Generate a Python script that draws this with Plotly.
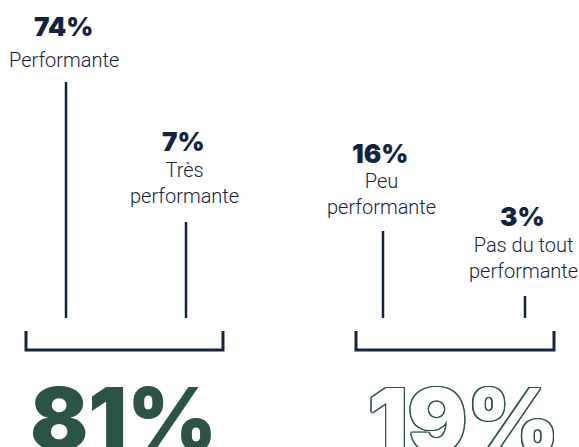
import plotly.graph_objects as go

# ---- data ----
categories = ["Performante", "Très<br>performante", "Peu<br>performante", "Pas du tout<br>performante"]
values = [74, 7, 16, 3]
groups = [[0, 1], [2, 3]]  # performant / non-performant groups
group_totals = [sum(values[i] for i in g) for g in groups]

# ---- layout (positions / styles) ----
W, H = 579, 447
NAVY = "#14233f"
GREEN = "#2c5444"
x_pos = [66, 186, 383, 525]
stem_top = [82, 222, 231, 296]
stem_bottom = 318
pct_y = [26, 141, 153, 216]
lab_y = [60, 183, 194, 258]
bracket = [(26, 223), (356, 554)]
bracket_top, bracket_bot = 331, 350

fig = go.Figure()

for i, v in enumerate(values):
    fig.add_trace(go.Scatter(x=[x_pos[i], x_pos[i]], y=[stem_top[i], stem_bottom],
                             mode="lines", line=dict(color=NAVY, width=2.5),
                             hoverinfo="skip", showlegend=False))

for (xl, xr) in bracket:
    fig.add_trace(go.Scatter(x=[xl, xl, xr, xr], y=[bracket_top, bracket_bot, bracket_bot, bracket_top],
                             mode="lines", line=dict(color=NAVY, width=3),
                             hoverinfo="skip", showlegend=False))

annotations = []
for i, (c, v) in enumerate(zip(categories, values)):
    annotations.append(dict(x=x_pos[i] - 3, y=pct_y[i], text=f"{v}%", showarrow=False,
                            xanchor="center", yanchor="middle",
                            font=dict(family="Inter", size=26, weight=900, color=NAVY)))
    annotations.append(dict(x=x_pos[i] - 2, y=lab_y[i], text=c, showarrow=False,
                            xanchor="center", yanchor="middle",
                            font=dict(family="Roboto", size=20, weight=300, color=NAVY)))

s = "1.3px"
outline = ", ".join(f"{dx} {dy} 0 {GREEN}" for dx, dy in
                    [(s, s), ("-" + s, s), (s, "-" + s), ("-" + s, "-" + s),
                     ("0", s), ("0", "-" + s), (s, "0"), ("-" + s, "0")])
big_x = [123, 463]
for k, t in enumerate(group_totals):
    if k == 0:
        font = dict(family="Inter", size=86, weight=900, color=GREEN)
    else:
        font = dict(family="Inter", size=88, weight=900, color="white", shadow=outline)
    annotations.append(dict(x=big_x[k], y=388, text=f"{t}%", showarrow=False,
                            xanchor="center", yanchor="top", yshift=23, font=font))

fig.update_layout(
    width=W, height=H, margin=dict(l=0, r=0, t=0, b=0),
    paper_bgcolor="white", plot_bgcolor="white",
    xaxis=dict(range=[0, W], visible=False, fixedrange=True),
    yaxis=dict(range=[H, 0], visible=False, fixedrange=True),
    annotations=annotations,
)
fig.write_html("out.html", config={"displayModeBar": False, "staticPlot": True},
               post_script="document.body.style.margin='0';document.body.style.overflow='hidden';")
